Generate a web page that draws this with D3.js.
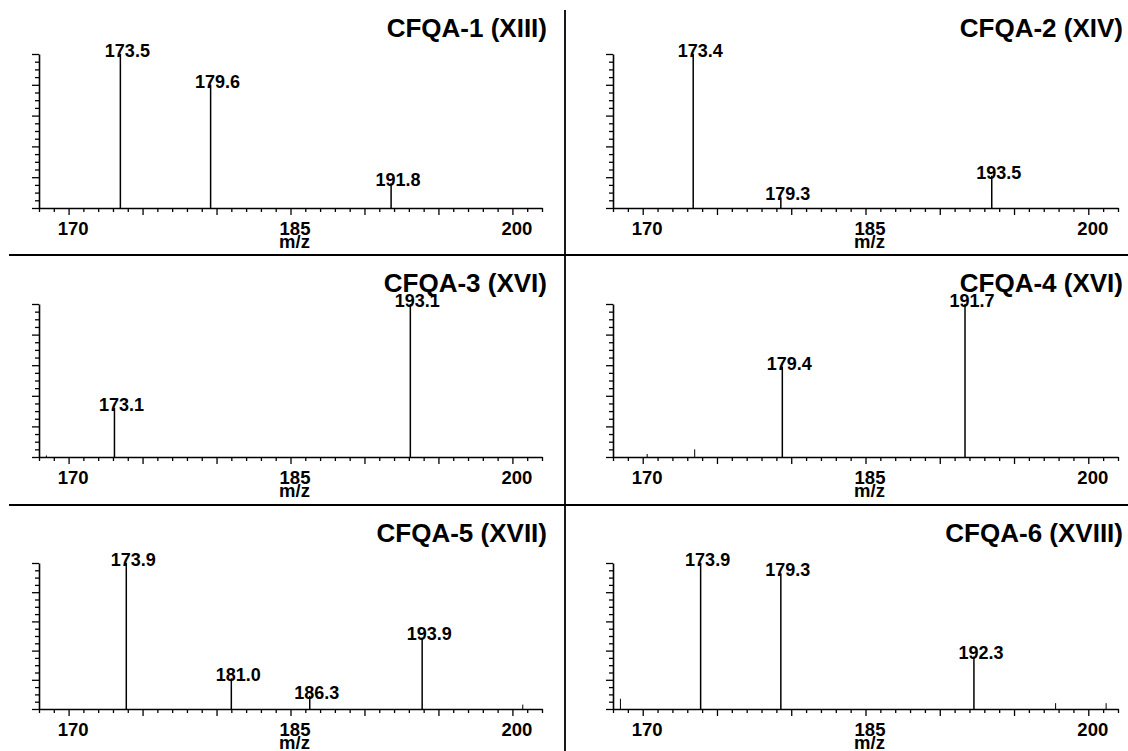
<!DOCTYPE html>
<html>
<head>
<meta charset="utf-8">
<script src="https://cdn.jsdelivr.net/npm/d3@7"></script>
<style>
  body { margin: 0; background: #fff; }
  text { font-family: "Liberation Sans", Arial, Helvetica, sans-serif; font-weight: bold; fill: #000; }
</style>
</head>
<body>
<div id="chart"></div>
<script>
(function () {

// the six spectra (m/z and relative intensity in %)
const titles = ["CFQA-1 (XIII)", "CFQA-2 (XIV)", "CFQA-3 (XVI)", "CFQA-4 (XVI)", "CFQA-5 (XVII)", "CFQA-6 (XVIII)"];

const peakMz = [
  [173.5, 179.6, 191.8],
  [173.4, 179.3, 193.5],
  [173.1, 193.1],
  [179.4, 191.7],
  [173.9, 181.0, 186.3, 193.9],
  [173.9, 179.3, 192.3]
];
const peakIntensity = [
  [100, 80, 16],
  [100, 7, 21],
  [32, 100],
  [59, 100],
  [100, 21, 9, 49],
  [100, 93, 36]
];

// little unlabeled peaks / noise
const minorMz = [
  [],
  [],
  [168.5],
  [170.3, 173.5],
  [200.7],
  [168.5, 197.8, 201.2]
];
const minorIntensity = [
  [],
  [],
  [1],
  [2, 5],
  [3],
  [7, 4, 4]
];

const xTickLabels = [170, 185, 200];
const xDomain = [168, 202];

// page size
const width = 1128, height = 751;

const svg = d3.select("#chart").append("svg")
    .attr("width", width)
    .attr("height", height);

// panel positions, two columns and three rows
const cols = [
  {left: 39, right: 542, titleRight: 547},
  {left: 613, right: 1118, titleRight: 1123}
];
const rows = [
  {top: 54, base: 208, title: 37},
  {top: 304, base: 457, title: 292},
  {top: 563, base: 709, title: 542}
];

// divider lines between the panels
svg.append("line")
    .attr("x1", 565).attr("x2", 565)
    .attr("y1", 10).attr("y2", height)
    .attr("stroke", "#000").attr("stroke-width", 1.8);

[255, 505].forEach(yy => {
  svg.append("line")
      .attr("x1", 9).attr("x2", width)
      .attr("y1", yy).attr("y2", yy)
      .attr("stroke", "#000").attr("stroke-width", 1.8);
});

titles.forEach((title, i) => {
  const col = cols[i % 2], row = rows[Math.floor(i / 2)];

  const x = d3.scaleLinear()
      .domain(xDomain)
      .range([col.left, col.right]);

  const y = d3.scaleLinear()
      .domain([0, 100])
      .range([row.base, row.top]);

  const g = svg.append("g");

  // title in the corner
  g.append("text")
      .attr("x", col.titleRight)
      .attr("y", row.title)
      .attr("text-anchor", "end")
      .attr("font-size", 26)
      .text(title);

  // x axis, a tick every unit, longer ones every 5
  const xAxis = g.append("g")
      .attr("transform", `translate(0,${row.base})`)
      .call(d3.axisBottom(x)
        .tickValues(d3.range(xDomain[0], xDomain[1] + 1))
        .tickSize(7)
        .tickSizeOuter(0)
        .tickFormat(d => xTickLabels.includes(d) ? d : ""));

  xAxis.select(".domain").attr("stroke-width", 1.6);
  xAxis.selectAll(".tick line")
      .attr("stroke-width", 1.3)
      .attr("y2", d => d % 5 === 0 ? 7 : 4);
  xAxis.selectAll(".tick text")
      .attr("y", 27)
      .attr("dy", null)
      .attr("dx", 4)
      .attr("font-size", 18.5)
      .attr("font-family", null)
      .attr("fill", "#000");

  // m/z under the middle label
  g.append("text")
      .attr("x", x(185) + 4)
      .attr("y", row.base + 40)
      .attr("text-anchor", "middle")
      .attr("font-size", 18.5)
      .text("m/z");

  // y axis, no labels, ticks every 5 with longer ones every 20
  const yAxis = g.append("g")
      .attr("transform", `translate(${col.left},0)`)
      .call(d3.axisLeft(y)
        .tickValues(d3.range(0, 101, 5))
        .tickSize(7)
        .tickSizeOuter(0)
        .tickFormat(""));

  yAxis.select(".domain").attr("stroke-width", 1.6);
  yAxis.selectAll(".tick line")
      .attr("stroke-width", 1.3)
      .attr("x2", d => d % 20 === 0 ? -7 : -4);

  // small peaks first
  const minor = minorMz[i].map((mz, j) => ({mz, v: minorIntensity[i][j]}));
  g.selectAll(".minor")
    .data(minor)
    .join("line")
      .attr("class", "minor")
      .attr("x1", d => x(d.mz)).attr("x2", d => x(d.mz))
      .attr("y1", y(0)).attr("y2", d => y(d.v))
      .attr("stroke", "#000")
      .attr("stroke-width", 1);

  // labelled peaks
  const peaks = peakMz[i].map((mz, j) => ({mz, v: peakIntensity[i][j]}));
  g.selectAll(".peak")
    .data(peaks)
    .join("line")
      .attr("class", "peak")
      .attr("x1", d => x(d.mz)).attr("x2", d => x(d.mz))
      .attr("y1", y(0)).attr("y2", d => y(d.v))
      .attr("stroke", "#000")
      .attr("stroke-width", 1.5);

  g.selectAll(".plabel")
    .data(peaks)
    .join("text")
      .attr("class", "plabel")
      .attr("x", d => x(d.mz) + 7)
      .attr("y", d => y(d.v) + 3)
      .attr("text-anchor", "middle")
      .attr("font-size", 18)
      .text(d => d.mz.toFixed(1));
});

})()
</script>
</body>
</html>
